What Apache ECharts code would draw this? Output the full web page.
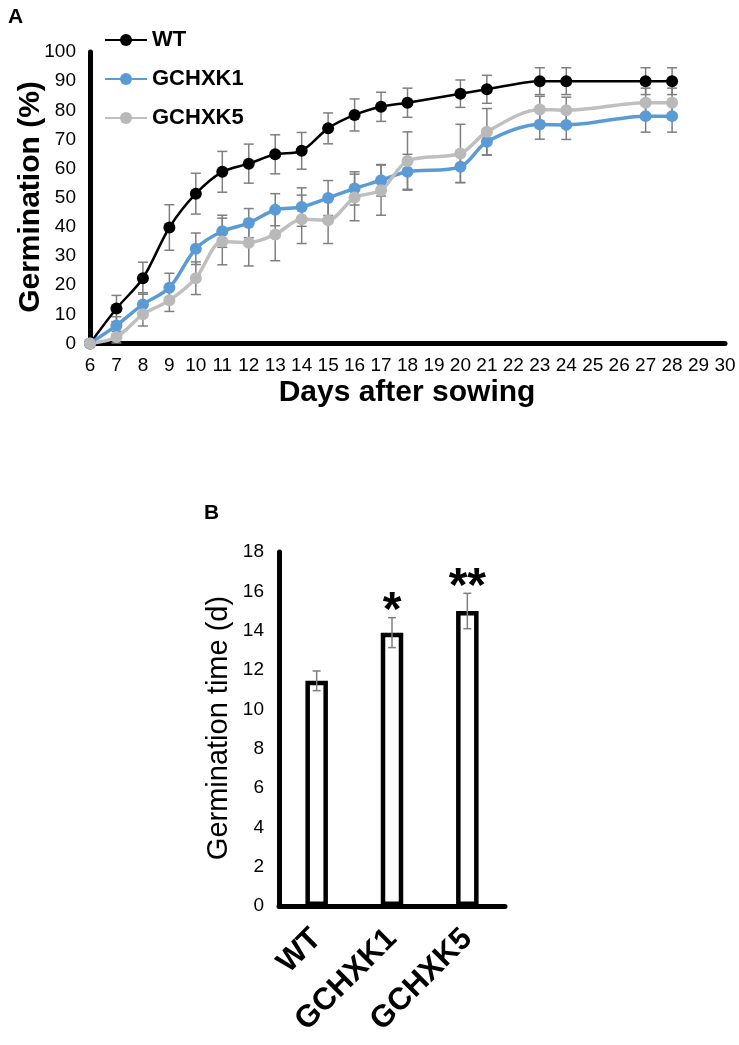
<!DOCTYPE html>
<html><head><meta charset="utf-8">
<script src="https://cdn.jsdelivr.net/npm/echarts@6/dist/echarts.min.js"></script>
<style>html,body{margin:0;padding:0;background:#fff}#c{width:739px;height:1045px}</style>
</head><body><div id="c"></div>
<script>
// Panel A data
const days = [6, 7, 8, 9, 10, 11, 12, 13, 14, 15, 16, 17, 18, 20, 21, 23, 24, 27, 28];
const wt    = [0, 12, 22.4, 39.8, 51.4, 58.9, 61.7, 64.9, 66.1, 73.8, 78.4, 81.2, 82.6, 85.7, 87.2, 90, 90, 90, 90];
const wtErr = [0, 4.5, 5.5, 7.8, 7, 7, 6.7, 6.7, 6.3, 5.3, 5.5, 5, 5, 4.7, 4.8, 4.6, 4.6, 4.6, 4.6];
const gc1    = [0, 6.2, 13.4, 19.1, 32.5, 38.5, 41.3, 45.9, 46.8, 49.9, 53.2, 56, 58.9, 60.6, 69.2, 75.1, 75, 78, 78];
const gc1Err = [0, 3, 4, 5, 5.4, 5.5, 5, 5.5, 6.6, 6, 5.7, 5.4, 6, 5.4, 4.5, 5, 5, 5.5, 5.5];
const gc5    = [0, 2.2, 10, 14.8, 22.4, 35, 34.6, 37.4, 42.6, 42.3, 50.1, 52.6, 62.6, 65.2, 72.6, 80.3, 80, 82.6, 82.6];
const gc5Err = [0, 2, 4, 3.8, 5.6, 8, 8, 9, 8.3, 8, 8, 8.6, 10, 10, 8, 4.5, 4.5, 5, 5];
const seriesNames = ['WT', 'GCHXK1', 'GCHXK5'];

// Panel B data
const groups = ['WT', 'GCHXK1', 'GCHXK5'];
const meanTime = [11.45, 13.9, 15.0];
const errTime = [0.5, 0.76, 0.9];
const sigMarks = ['', '*', '**'];

const FONT = '"Liberation Sans", Arial, sans-serif';
const ERR = '#7f7f7f';

function errRenderA(params, api) {
  const x = api.value(0), y = api.value(1), e = api.value(2);
  if (!e) return;
  const t = api.coord([x, y + e]), b = api.coord([x, y - e]);
  const hw = 5;
  const st = { stroke: ERR, lineWidth: 1.5 };
  return { type: 'group', children: [
    { type: 'line', shape: { x1: t[0], y1: t[1], x2: b[0], y2: b[1] }, style: st },
    { type: 'line', shape: { x1: t[0] - hw, y1: t[1], x2: t[0] + hw, y2: t[1] }, style: st },
    { type: 'line', shape: { x1: b[0] - hw, y1: b[1], x2: b[0] + hw, y2: b[1] }, style: st }
  ]};
}
function errRenderB(params, api) {
  const x = api.value(0), y = api.value(1), e = api.value(2);
  const mark = sigMarks[params.dataIndex];
  const t = api.coord([x, y + e]), b = api.coord([x, y - e]);
  const hw = 4;
  const st = { stroke: ERR, lineWidth: 1.5 };
  const ch = [
    { type: 'line', shape: { x1: t[0], y1: t[1], x2: b[0], y2: b[1] }, style: st },
    { type: 'line', shape: { x1: t[0] - hw, y1: t[1], x2: t[0] + hw, y2: t[1] }, style: st },
    { type: 'line', shape: { x1: b[0] - hw, y1: b[1], x2: b[0] + hw, y2: b[1] }, style: st }
  ];
  if (mark) ch.push({ type: 'text', x: t[0], y: t[1] + 18, style: { text: mark, fill: '#000',
    font: 'bold 48px ' + FONT, textAlign: 'center', textVerticalAlign: 'bottom' } });
  return { type: 'group', children: ch };
}

const chart = echarts.init(document.getElementById('c'));
const axisLineStyle = { show: true, lineStyle: { color: '#000', width: 5 } };
chart.setOption({
  animation: false,
  backgroundColor: '#fff',
  grid: [
    { left: 90, right: 14, top: 52, bottom: 701.5 },
    { left: 279, top: 552, width: 226, height: 354 }
  ],
  legend: {
    data: seriesNames, orient: 'vertical', left: 104, top: 29, padding: 0,
    itemWidth: 42, itemHeight: 15, itemGap: 17,
    textStyle: { fontFamily: FONT, fontWeight: 'bold', fontSize: 22, color: '#000' }
  },
  xAxis: [
    { type: 'value', gridIndex: 0, min: 6, max: 30, interval: 1,
      axisLine: axisLineStyle, axisTick: { show: false }, splitLine: { show: false },
      axisLabel: { fontFamily: FONT, fontSize: 19, color: '#000', margin: 13 } },
    { type: 'category', gridIndex: 1, data: groups,
      axisLine: axisLineStyle, axisTick: { show: false },
      axisLabel: { fontFamily: FONT, fontSize: 31, fontWeight: 'bold', color: '#000', rotate: 45, margin: 28, interval: 0 } }
  ],
  yAxis: [
    { type: 'value', gridIndex: 0, min: 0, max: 100, interval: 10,
      axisLine: axisLineStyle, axisTick: { show: false }, splitLine: { show: false },
      axisLabel: { fontFamily: FONT, fontSize: 19, color: '#000', margin: 14 } },
    { type: 'value', gridIndex: 1, min: 0, max: 18, interval: 2,
      axisLine: axisLineStyle, axisTick: { show: false }, splitLine: { show: false },
      axisLabel: { fontFamily: FONT, fontSize: 19, color: '#000', margin: 15 } }
  ],
  series: [
    { type: 'custom', xAxisIndex: 0, yAxisIndex: 0, renderItem: errRenderA, z: 1,
      data: days.map((d, i) => [d, wt[i], wtErr[i]]), encode: { x: 0, y: 1 } },
    { type: 'custom', xAxisIndex: 0, yAxisIndex: 0, renderItem: errRenderA, z: 1,
      data: days.map((d, i) => [d, gc1[i], gc1Err[i]]), encode: { x: 0, y: 1 } },
    { type: 'custom', xAxisIndex: 0, yAxisIndex: 0, renderItem: errRenderA, z: 1,
      data: days.map((d, i) => [d, gc5[i], gc5Err[i]]), encode: { x: 0, y: 1 } },
    { name: 'WT', type: 'line', xAxisIndex: 0, yAxisIndex: 0, smooth: 0.3, z: 3,
      data: days.map((d, i) => [d, wt[i]]), symbol: 'circle', symbolSize: 12,
      itemStyle: { color: '#000' }, lineStyle: { color: '#000', width: 2.5 } },
    { name: 'GCHXK1', type: 'line', xAxisIndex: 0, yAxisIndex: 0, smooth: 0.3, z: 3,
      data: days.map((d, i) => [d, gc1[i]]), symbol: 'circle', symbolSize: 12,
      itemStyle: { color: '#5b9bd5' }, lineStyle: { color: '#5b9bd5', width: 3.5 } },
    { name: 'GCHXK5', type: 'line', xAxisIndex: 0, yAxisIndex: 0, smooth: 0.3, z: 3,
      data: days.map((d, i) => [d, gc5[i]]), symbol: 'circle', symbolSize: 12,
      itemStyle: { color: '#b9b9b9' }, lineStyle: { color: '#bfbfbf', width: 3.5 } },
    { type: 'bar', xAxisIndex: 1, yAxisIndex: 1, data: meanTime, barWidth: 22.5,
      itemStyle: { color: '#fff', borderColor: '#000', borderWidth: 4.5 } },
    { type: 'custom', xAxisIndex: 1, yAxisIndex: 1, renderItem: errRenderB, z: 5,
      data: groups.map((g, i) => [i, meanTime[i], errTime[i]]), encode: { x: 0, y: 1 } }
  ],
  graphic: [
    { type: 'text', left: 8, top: 7, style: { text: 'A', font: 'bold 21px ' + FONT, fill: '#000' } },
    { type: 'text', left: 204, top: 503, style: { text: 'B', font: 'bold 21px ' + FONT, fill: '#000' } },
    { type: 'text', x: 31, y: 197, rotation: Math.PI / 2,
      style: { text: 'Germination (%)', font: 'bold 30px ' + FONT, fill: '#000', textAlign: 'center', textVerticalAlign: 'middle' } },
    { type: 'text', x: 407, y: 393,
      style: { text: 'Days after sowing', font: 'bold 30px ' + FONT, fill: '#000', textAlign: 'center', textVerticalAlign: 'middle' } },
    { type: 'text', x: 219, y: 728, rotation: Math.PI / 2,
      style: { text: 'Germination time (d)', font: '29px ' + FONT, fill: '#000', textAlign: 'center', textVerticalAlign: 'middle' } }
  ]
});
</script>
</body></html>
